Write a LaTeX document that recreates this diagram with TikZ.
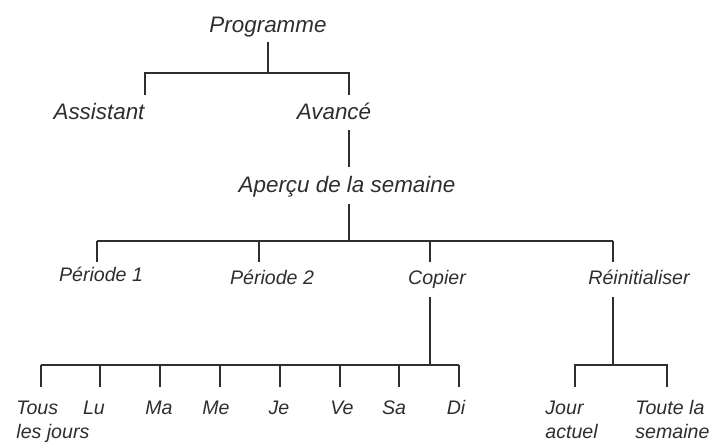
\documentclass[tikz,border=0pt]{standalone}
\usepackage{fontspec}
\setmainfont{Liberation Sans}
\definecolor{inkgray}{HTML}{2E2E2E}
\tikzset{
  branch/.style={draw=inkgray, line width=1pt},
  bigl/.style={anchor=base, inner sep=0pt, text=inkgray, font=\fontsize{11.2}{13}\selectfont\itshape},
  smll/.style={anchor=base, inner sep=0pt, text=inkgray, font=\fontsize{9.8}{12}\selectfont\itshape},
  twol/.style={smll, anchor=base west, align=left}
}
\begin{document}
\begin{tikzpicture}[x=0.5pt, y=-0.5pt]
  \useasboundingbox (0,0) rectangle (712,445);

  % upper levels
  \node[bigl] (prog) at (268,32) {Programme};
  \node[bigl] (assist) at (99,119) {Assistant};
  \node[bigl] (avance) at (334,119) {Avancé};
  \node[bigl] (apercu) at (347,192) {Aperçu de la semaine};

  \coordinate (progb) at (268,42);
  \coordinate (j1) at (268,73);
  \coordinate (assistt) at (145,95);
  \coordinate (avancet) at (349,95);
  \draw[branch] (progb) -- (j1);
  \draw[branch] (assistt) |- (j1) -| (avancet);

  \coordinate (avanceb) at (349,130);
  \coordinate (apercut) at (349,167);
  \draw[branch] (avanceb) -- (apercut);

  % week overview
  \node[smll] (per1) at (101,281) {Période 1};
  \node[smll] (per2) at (272,284) {Période 2};
  \node[smll] (copier) at (437,284) {Copier};
  \node[smll] (reinit) at (639,284) {Réinitialiser};

  \coordinate (apercub) at (349,204);
  \coordinate (j2) at (349,241);
  \draw[branch] (apercub) -- (j2);
  \foreach \n/\x in {per1/97,per2/259,copier/430,reinit/613}{
    \coordinate (\n t) at (\x,262);
    \draw[branch] (\n t) -- (\n t |- j2);
  }
  \draw[branch] (per1t |- j2) -- (reinitt |- j2);

  % days
  \node[twol] (tous) at (16,438) {Tous\\les jours};
  \foreach \n/\x/\d in {lu/94/Lu,ma/159/Ma,me/216/Me,je/279/Je,ve/342/Ve,sa/394/Sa,di/456/Di}{
    \node[smll] (\n) at (\x,414) {\d};
  }
  \coordinate (copierb) at (430,297);
  \coordinate (j3) at (430,365);
  \draw[branch] (copierb) -- (j3);
  \foreach \n/\x in {tous/41,lu/100,ma/160,me/220,je/280,ve/340,sa/399,di/459}{
    \coordinate (\n t) at (\x,387);
    \draw[branch] (\n t) -- (\n t |- j3);
  }
  \draw[branch] (toust |- j3) -- (dit |- j3);

  % reset
  \node[twol] (jour) at (545,438) {Jour\\actuel};
  \node[twol] (toute) at (635,438) {Toute la\\semaine};
  \coordinate (reinitb) at (613,297);
  \coordinate (j4) at (613,365);
  \coordinate (jourt) at (575,387);
  \coordinate (toutet) at (667,387);
  \draw[branch] (reinitb) -- (j4);
  \draw[branch] (jourt) |- (j4) -| (toutet);
\end{tikzpicture}
\end{document}
